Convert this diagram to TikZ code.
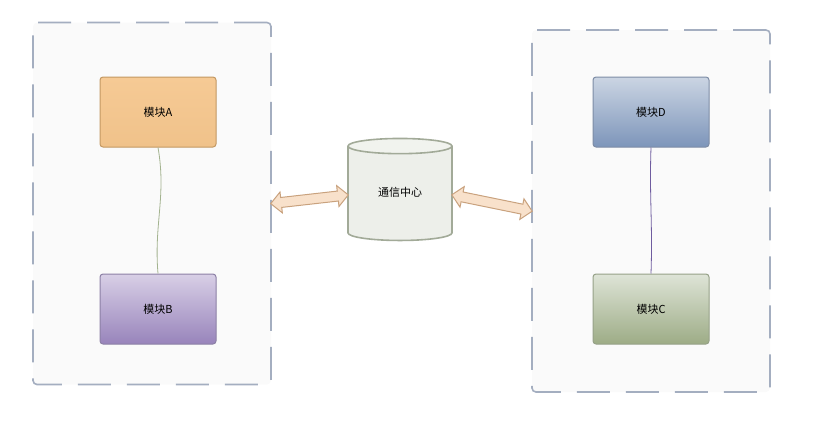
\documentclass[tikz,border=0pt]{standalone}
\usepackage{fontspec}
\newfontfamily\cjk{Noto Sans CJK SC}
\usetikzlibrary{shapes.geometric,shapes.arrows}
\definecolor{frameline}{HTML}{A4AEC0}
\definecolor{framefill}{HTML}{FAFAFA}
\definecolor{linkfill}{HTML}{F8E1CB}
\definecolor{linkline}{HTML}{C9A27E}
\definecolor{modAtop}{HTML}{F6CA95}
\definecolor{modAbot}{HTML}{F0C28A}
\definecolor{modAline}{HTML}{C39862}
\definecolor{modBtop}{HTML}{D8CFE6}
\definecolor{modBbot}{HTML}{9884BB}
\definecolor{modBline}{HTML}{8C80A5}
\definecolor{modDtop}{HTML}{CBD5E3}
\definecolor{modDbot}{HTML}{7D95BA}
\definecolor{modDline}{HTML}{7D8CA5}
\definecolor{modCtop}{HTML}{DEE4D7}
\definecolor{modCbot}{HTML}{9DAC86}
\definecolor{modCline}{HTML}{96A188}
\definecolor{cylfill}{HTML}{EDEFEA}
\definecolor{cyltop}{HTML}{F1F3EE}
\definecolor{cylline}{HTML}{A2AA98}
\definecolor{wireAB}{HTML}{A3B38F}
\definecolor{wireDC}{HTML}{6F5C9F}

\begin{document}
\begin{tikzpicture}[x=1pt,y=-1pt,
    font=\cjk\fontsize{11}{13}\selectfont,
    frame/.style={draw=frameline,fill=framefill,line width=1.6pt,
        dash pattern=on 33pt off 16pt,rounded corners=4pt,
        minimum width=238pt,minimum height=362pt},
    module/.style={rounded corners=3pt,line width=1pt,
        minimum width=116pt,minimum height=70pt},
    link/.style={double arrow,draw=linkline,fill=linkfill,line width=1pt,
        inner sep=4.5pt,double arrow head extend=5.5pt,sloped}]
    \useasboundingbox (0,0) rectangle (813,421);
    \node[frame] (lbox) at (152,203.5) {};
    \node[frame] (rbox) at (651,211) {};
    \node[module,draw=modAline,top color=modAtop,bottom color=modAbot] (modA) at (158,112) {模块A};
    \node[module,draw=modBline,top color=modBtop,bottom color=modBbot] (modB) at (158,309) {模块B};
    \node[module,draw=modDline,top color=modDtop,bottom color=modDbot] (modD) at (651,112) {模块D};
    \node[module,draw=modCline,top color=modCtop,bottom color=modCbot] (modC) at (651,309) {模块C};
    \node[cylinder,shape border rotate=90,aspect=0.3,draw=cylline,line width=1.6pt,
        cylinder uses custom fill,cylinder body fill=cylfill,cylinder end fill=cyltop,
        minimum width=104pt,minimum height=102pt] (cyl) at (400,195) {\raisebox{6pt}{通信中心}};
    \draw[wireAB,line width=0.8pt] (modA.south) to[out=-80,in=95] (modB.north);
    \draw[wireDC,line width=0.8pt] (modD.south) to[out=-92,in=88] (modC.north);
    \path (lbox.east) -- (cyl.west) node[link,midway,minimum height=78pt] {};
    \path (cyl.east) -- (rbox.west) node[link,midway,minimum height=82pt] {};
\end{tikzpicture}
\end{document}
